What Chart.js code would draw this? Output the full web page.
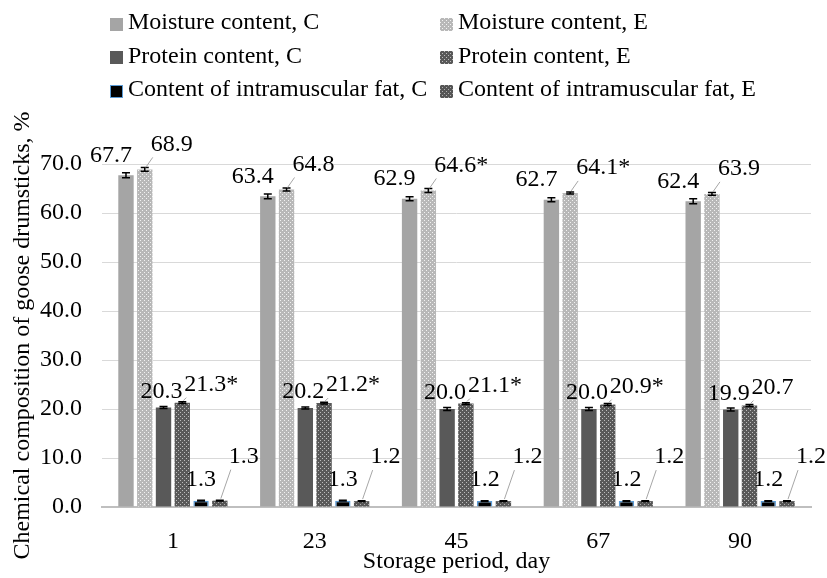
<!DOCTYPE html>
<html>
<head>
<meta charset="utf-8">
<script src="https://cdn.jsdelivr.net/npm/chart.js@4/dist/chart.umd.min.js"></script>
<style>
  body { margin: 0; background: #fff; }
  #wrap { position: relative; width: 827px; height: 578px; }
  #legend {
    position: absolute; left: 110px; top: 5px;
    display: grid; grid-template-columns: 330px auto;
    font-family: "Liberation Serif", "Times New Roman", serif; font-size: 24px; color: #000;
  }
  .item { display: flex; align-items: center; height: 33.5px; white-space: nowrap; }
  .sw { width: 13px; height: 13px; margin-right: 5px; margin-top: 5px; box-sizing: border-box; }
</style>
</head>
<body>
<div id="wrap">
  <canvas id="chart" width="827" height="578"></canvas>
  <div id="legend"></div>
</div>
<script>
// Chemische Zusammensetzung Gänsekeulen, C = Kontrolle, E = Versuch

const categories = ['1', '23', '45', '67', '90'];

const moistureC = [67.7, 63.4, 62.9, 62.7, 62.4];
const moistureE = [68.9, 64.8, 64.6, 64.1, 63.9];
const proteinC = [20.3, 20.2, 20.0, 20.0, 19.9];
const proteinE = [21.3, 21.2, 21.1, 20.9, 20.7];
const fatC = [1.3, 1.3, 1.2, 1.2, 1.2];
const fatE = [1.3, 1.2, 1.2, 1.2, 1.2];

// Fehlerbalken (geschätzt)
const errMoistureC = [0.5, 0.5, 0.4, 0.4, 0.5];
const errMoistureE = [0.4, 0.3, 0.4, 0.2, 0.3];
const errProteinC = [0.2, 0.2, 0.3, 0.3, 0.3];
const errProteinE = [0.2, 0.2, 0.2, 0.2, 0.2];
const errFatC = [0.1, 0.1, 0.1, 0.1, 0.1];
const errFatE = [0.1, 0.1, 0.1, 0.1, 0.1];

// Signifikanz-Sterne
const marksMoistureE = ['', '', '*', '*', ''];
const marksProteinE = ['*', '*', '*', '*', ''];

const FONT = '"Liberation Serif", "Times New Roman", serif';

function makeTile(base, dot) {
    const c = document.createElement('canvas');
    c.width = 4; c.height = 4;
    const x = c.getContext('2d');
    x.fillStyle = base;
    x.fillRect(0, 0, 4, 4);
    x.fillStyle = dot;
    x.fillRect(0, 0, 1, 1);
    x.fillRect(2, 2, 1, 1);
    return c;
}

const ctx = document.getElementById('chart').getContext('2d');
const tileMoistE = makeTile('#b8b8b8', '#f2f2f2');
const tileProtE = makeTile('#595959', '#bdbdbd');
const tileFatE = makeTile('#555555', '#b0b0b0');

const datasets = [
    { label: 'Moisture content, C', data: moistureC, err: errMoistureC, backgroundColor: '#a5a5a5',
      swatch: '#a5a5a5', lbl: { align: 'center', dx: -15, dy: -20 } },
    { label: 'Moisture content, E', data: moistureE, err: errMoistureE, marks: marksMoistureE,
      backgroundColor: ctx.createPattern(tileMoistE, 'repeat'), swatch: tileMoistE,
      lbl: { align: 'left', dx: 6, dy: -25, leader: true } },
    { label: 'Protein content, C', data: proteinC, err: errProteinC, backgroundColor: '#595959',
      swatch: '#595959', lbl: { align: 'center', dx: -2, dy: -16 } },
    { label: 'Protein content, E', data: proteinE, err: errProteinE, marks: marksProteinE,
      backgroundColor: ctx.createPattern(tileProtE, 'repeat'), swatch: tileProtE,
      lbl: { align: 'left', dx: 2, dy: -18, leader: true } },
    { label: 'Content of intramuscular fat, C', data: fatC, err: errFatC, backgroundColor: '#000000',
      borderColor: '#5b9bd5', borderWidth: 1.5, swatch: '#000000', swBorder: '#5b9bd5',
      lbl: { align: 'center', dx: 0, dy: -21 } },
    { label: 'Content of intramuscular fat, E', data: fatE, err: errFatE,
      backgroundColor: ctx.createPattern(tileFatE, 'repeat'), swatch: tileFatE,
      lbl: { align: 'left', dx: 9, dy: -44, leader: true } }
];

// HTML-Legende in zwei Spalten
const legend = document.getElementById('legend');
datasets.forEach(ds => {
    const item = document.createElement('div');
    item.className = 'item';
    const sw = document.createElement('span');
    sw.className = 'sw';
    if (typeof ds.swatch === 'string') sw.style.background = ds.swatch;
    else sw.style.backgroundImage = `url(${ds.swatch.toDataURL()})`;
    if (ds.swBorder) sw.style.border = `1.5px solid ${ds.swBorder}`;
    const t = document.createElement('span');
    t.textContent = ds.label;
    item.appendChild(sw);
    item.appendChild(t);
    legend.appendChild(item);
});

const barExtras = {
    id: 'barExtras',
    afterDatasetsDraw(chart) {
        const c = chart.ctx;
        const y = chart.scales.y;
        c.save();
        chart.data.datasets.forEach((ds, i) => {
            const meta = chart.getDatasetMeta(i);
            meta.data.forEach((bar, j) => {
                const v = ds.data[j];
                const e = ds.err[j];
                // Fehlerbalken
                const yt = y.getPixelForValue(v + e);
                const yb = y.getPixelForValue(v - e);
                c.strokeStyle = '#000';
                c.lineWidth = 1.5;
                c.beginPath();
                c.moveTo(bar.x, yt); c.lineTo(bar.x, yb);
                c.moveTo(bar.x - 4, yt); c.lineTo(bar.x + 4, yt);
                c.moveTo(bar.x - 4, yb); c.lineTo(bar.x + 4, yb);
                c.stroke();
                // Beschriftung
                const l = ds.lbl;
                const tx = bar.x + l.dx;
                const ty = bar.y + l.dy;
                if (l.leader) {
                    c.strokeStyle = '#a6a6a6';
                    c.lineWidth = 1;
                    c.beginPath();
                    c.moveTo(bar.x + 1, bar.y - 2);
                    c.lineTo(tx + 2, ty + 13);
                    c.stroke();
                }
                c.fillStyle = '#000';
                c.font = `24px ${FONT}`;
                c.textAlign = l.align;
                c.textBaseline = 'middle';
                c.fillText(v.toFixed(1) + (ds.marks ? ds.marks[j] : ''), tx, ty);
            });
        });
        c.restore();
    }
};

new Chart(ctx, {
    type: 'bar',
    data: {
        labels: categories,
        datasets: datasets.map(d => Object.assign({ borderWidth: 0, categoryPercentage: 0.794, barPercentage: 0.82 }, d))
    },
    options: {
        responsive: false,
        animation: false,
        events: [],
        layout: { padding: { top: 164, right: 16, left: 0, bottom: 0 } },
        plugins: { legend: { display: false }, tooltip: { enabled: false } },
        scales: {
            x: {
                grid: { display: false },
                border: { display: true, color: '#bfbfbf', width: 2 },
                ticks: { color: '#000', font: { family: FONT, size: 24 }, padding: 12 },
                title: { display: true, text: 'Storage period, day', color: '#000',
                         font: { family: FONT, size: 24 }, padding: { top: 0, bottom: 2 } },
                afterFit: s => { s.height = 71; }
            },
            y: {
                min: 0, max: 70,
                grid: { color: '#d9d9d9', lineWidth: 1, drawTicks: false },
                border: { display: false },
                ticks: { stepSize: 10, color: '#000', font: { family: FONT, size: 24 }, padding: 20,
                         callback: v => v.toFixed(1) },
                title: { display: true, text: 'Chemical composition of goose drumsticks, %', color: '#000',
                         font: { family: FONT, size: 24 }, padding: { top: 8, bottom: 0 } },
                afterFit: s => { s.width = 102; }
            }
        }
    },
    plugins: [barExtras]
});
</script>
</body>
</html>
